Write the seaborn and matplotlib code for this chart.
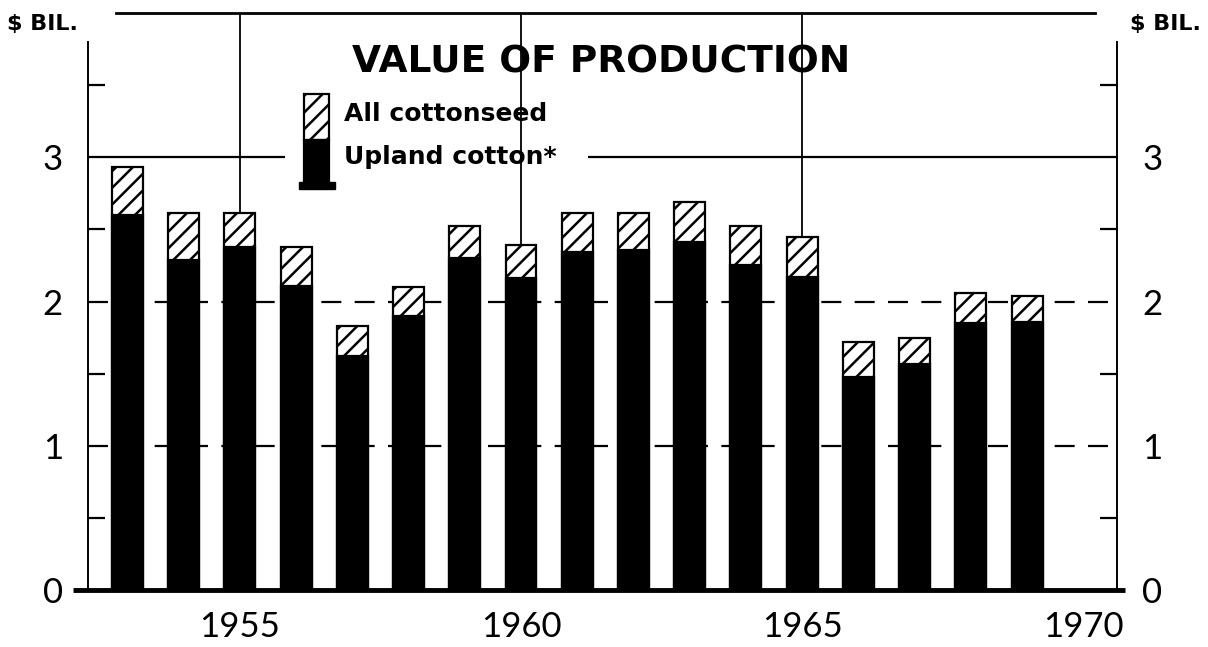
import pandas as pd
import seaborn as sns
import matplotlib.pyplot as plt
from matplotlib.patches import Rectangle
from matplotlib.ticker import FixedLocator

# values, $ billion
years = list(range(1953, 1970))
upland = [2.60, 2.29, 2.38, 2.11, 1.62, 1.90, 2.30, 2.16, 2.34, 2.36, 2.41, 2.25, 2.17, 1.48, 1.57, 1.85, 1.86]
cottonseed = [0.33, 0.32, 0.23, 0.27, 0.21, 0.20, 0.22, 0.23, 0.27, 0.25, 0.28, 0.27, 0.28, 0.24, 0.18, 0.21, 0.18]
year_ticks = [1955, 1960, 1965, 1970]
value_ticks = [0, 1, 2, 3]

df = pd.DataFrame({"year": years, "upland": upland, "cottonseed": cottonseed})
df["total"] = df["upland"] + df["cottonseed"]

sns.set_style("white")
plt.rcParams["font.family"] = ["Lato", "DejaVu Sans"]
plt.rcParams["text.color"] = "black"
plt.rcParams["xtick.color"] = "black"
plt.rcParams["ytick.color"] = "black"
plt.rcParams["hatch.linewidth"] = 1.8
plt.rcParams["hatch.color"] = "black"

fig = plt.figure(figsize=(12.08, 6.47), dpi=100)
ax = fig.add_axes([0.0728, 0.088, 0.852, 0.892])

# stacked bars: total (hatched seed on top) then the black upland part over it
sns.barplot(data=df, x="year", y="total", native_scale=True, width=0.55,
            color="white", saturation=1, edgecolor="black", linewidth=1.6,
            hatch="//", errorbar=None, ax=ax, zorder=3)
sns.barplot(data=df, x="year", y="upland", native_scale=True, width=0.55,
            color="black", saturation=1, edgecolor="black", linewidth=1.6,
            errorbar=None, ax=ax, zorder=4)

ax.set_xlim(1952.3, 1970.6)
ax.set_ylim(0, 4)
ax.set_xlabel("")
ax.set_ylabel("")

# grid: solid line at 3 (broken by the legend), dashed at 1 and 2, verticals every 5 years
ax.hlines(3, 1952.3, 1955.8, color="black", lw=1.6, zorder=1)
ax.hlines(3, 1961.2, 1970.6, color="black", lw=1.6, zorder=1)
for v in [1, 2]:
    ax.axhline(v, color="black", lw=1.6, dashes=(9, 6), zorder=1)
for yr in [1955, 1960, 1965]:
    ax.axvline(yr, color="black", lw=1.3, zorder=1)

# frame
for side in ["left", "right", "top"]:
    ax.spines[side].set_linewidth(1.4)
    ax.spines[side].set_color("black")
ax.spines["top"].set_linewidth(2)
ax.spines["left"].set_bounds(0, 3.8)
ax.spines["right"].set_bounds(0, 3.8)
ax.spines["top"].set_bounds(1952.8, 1970.2)
ax.spines["bottom"].set_visible(False)
ax.plot([-0.015, 1.008], [0, 0], transform=ax.transAxes, color="black",
        lw=3.5, clip_on=False, zorder=5, solid_capstyle="butt")

# ticks
ax.set_xticks(year_ticks)
ax.set_xticklabels([str(y) for y in year_ticks])
ax.tick_params(axis="x", direction="out", length=7, width=1.3, pad=8,
               labelsize=25)
ax.set_yticks(value_ticks)
ax.set_yticklabels([str(v) for v in value_ticks])
ax.yaxis.set_minor_locator(FixedLocator([0.5, 1.5, 2.5, 3.5]))
ax.tick_params(axis="y", which="major", length=0, pad=18, labelsize=25,
               left=True, right=True, labelleft=True, labelright=True)
ax.tick_params(axis="y", which="minor", direction="in", length=12, width=1.6,
               left=True, right=True)

# unit labels
bold = ["DejaVu Sans"]
fig.text(0.006, 0.963, "$ BIL.", fontsize=16, fontweight="bold", family=bold,
         ha="left", va="center")
fig.text(0.994, 0.963, "$ BIL.", fontsize=16, fontweight="bold", family=bold,
         ha="right", va="center")

# title
fig.text(0.498, 0.903, "VALUE OF PRODUCTION", fontsize=27, fontweight="bold",
         family=bold, ha="center", va="center")

# legend glyph: small stacked bar with a base
ax.add_patch(Rectangle((1956.15, 3.12), 0.44, 0.32, facecolor="white",
                       edgecolor="black", hatch="//", lw=1.6, zorder=6, clip_on=False))
ax.add_patch(Rectangle((1956.15, 2.83), 0.44, 0.29, facecolor="black",
                       edgecolor="black", lw=1.6, zorder=6, clip_on=False))
ax.add_patch(Rectangle((1956.05, 2.78), 0.64, 0.05, facecolor="black",
                       edgecolor="black", lw=1.0, zorder=6, clip_on=False))
ax.text(1956.86, 3.30, "All cottonseed", fontsize=18, fontweight="bold",
        family=bold, ha="left", va="center", zorder=6)
ax.text(1956.86, 3.00, "Upland cotton*", fontsize=18, fontweight="bold",
        family=bold, ha="left", va="center", zorder=6)

fig.savefig("out.png", dpi=100)
